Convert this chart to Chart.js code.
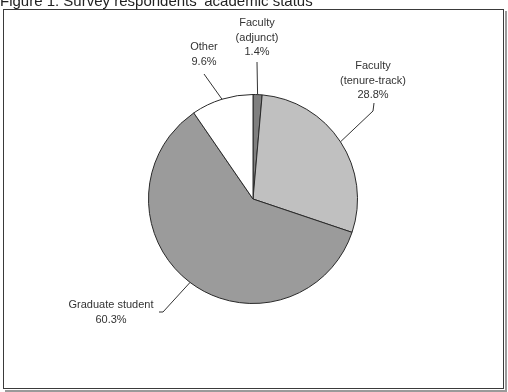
<!DOCTYPE html>
<html>
<head>
<meta charset="utf-8">
<script src="https://cdn.jsdelivr.net/npm/chart.js@4"></script>
<style>
  html, body { margin: 0; padding: 0; background: #fff; }
  #wrap { width: 508px; height: 392px; position: relative; }
</style>
</head>
<body>
<div id="wrap"><canvas id="pie" width="508" height="392"></canvas></div>
<script>
// data
const categories = ['Faculty (adjunct)', 'Faculty (tenure-track)', 'Graduate student', 'Other'];
const shares = [1.4, 28.8, 60.3, 9.6];
const labelLines = [
  ['Faculty', '(adjunct)', '1.4%'],
  ['Faculty', '(tenure-track)', '28.8%'],
  ['Graduate student', '60.3%'],
  ['Other', '9.6%']
];
const sliceColors = ['#7f7f7f', '#c0c0c0', '#9b9b9b', '#ffffff'];

// where each label text sits, and the bend of its leader line
const labelPos = [
  { x: 257, y: 23, elbow: [[257, 62]] },
  { x: 373, y: 66, elbow: [[374, 103], [373, 111]] },
  { x: 111, y: 305, elbow: [[159, 312], [163, 312]] },
  { x: 204, y: 47, elbow: [[204, 74]] }
];

const FONT = '11px "Liberation Sans", Arial, sans-serif';

// frame, title, labels and leader lines
const decor = {
  id: 'decor',
  beforeDraw(chart) {
    const ctx = chart.ctx;
    ctx.save();
    ctx.fillStyle = '#fff';
    ctx.fillRect(0, 0, chart.width, chart.height);
    // shadow + box
    ctx.strokeStyle = '#9a9a9a';
    ctx.lineWidth = 2;
    ctx.beginPath();
    ctx.moveTo(506, 11); ctx.lineTo(506, 391); ctx.lineTo(5, 391);
    ctx.stroke();
    ctx.strokeStyle = '#3a3a3a';
    ctx.lineWidth = 1;
    ctx.strokeRect(3.5, 9.5, 500, 379);
    // title, clipped at the top like the source
    ctx.fillStyle = '#222';
    ctx.font = '15px "Liberation Sans", Arial, sans-serif';
    ctx.textBaseline = 'alphabetic';
    ctx.textAlign = 'left';
    ctx.fillText('Figure 1. Survey respondents\u2019 academic status', 0, 5.5);
    ctx.restore();
  },
  afterDatasetsDraw(chart) {
    const ctx = chart.ctx;
    const arcs = chart.getDatasetMeta(0).data;
    ctx.save();
    ctx.strokeStyle = '#333';
    ctx.lineWidth = 1;
    arcs.forEach((arc, i) => {
      const mid = (arc.startAngle + arc.endAngle) / 2;
      const ex = arc.x + Math.cos(mid) * arc.outerRadius;
      const ey = arc.y + Math.sin(mid) * arc.outerRadius;
      const pts = labelPos[i].elbow;
      ctx.beginPath();
      ctx.moveTo(pts[0][0], pts[0][1]);
      for (let k = 1; k < pts.length; k++) ctx.lineTo(pts[k][0], pts[k][1]);
      ctx.lineTo(ex, ey);
      ctx.stroke();
    });
    ctx.fillStyle = '#333';
    ctx.font = FONT;
    ctx.textAlign = 'center';
    ctx.textBaseline = 'middle';
    labelLines.forEach((lines, i) => {
      lines.forEach((t, k) => {
        ctx.fillText(t, labelPos[i].x, labelPos[i].y + k * 14.5);
      });
    });
    ctx.restore();
  }
};

new Chart(document.getElementById('pie'), {
  type: 'pie',
  data: {
    labels: categories,
    datasets: [{
      data: shares,
      backgroundColor: sliceColors,
      borderColor: '#2a2a2a',
      borderWidth: 1,
      hoverOffset: 0
    }]
  },
  options: {
    responsive: false,
    animation: false,
    layout: { padding: { top: 94, bottom: 88, left: 148, right: 150 } },
    plugins: {
      legend: { display: false },
      tooltip: { enabled: false },
      title: { display: false }
    }
  },
  plugins: [decor]
});
</script>
</body>
</html>
